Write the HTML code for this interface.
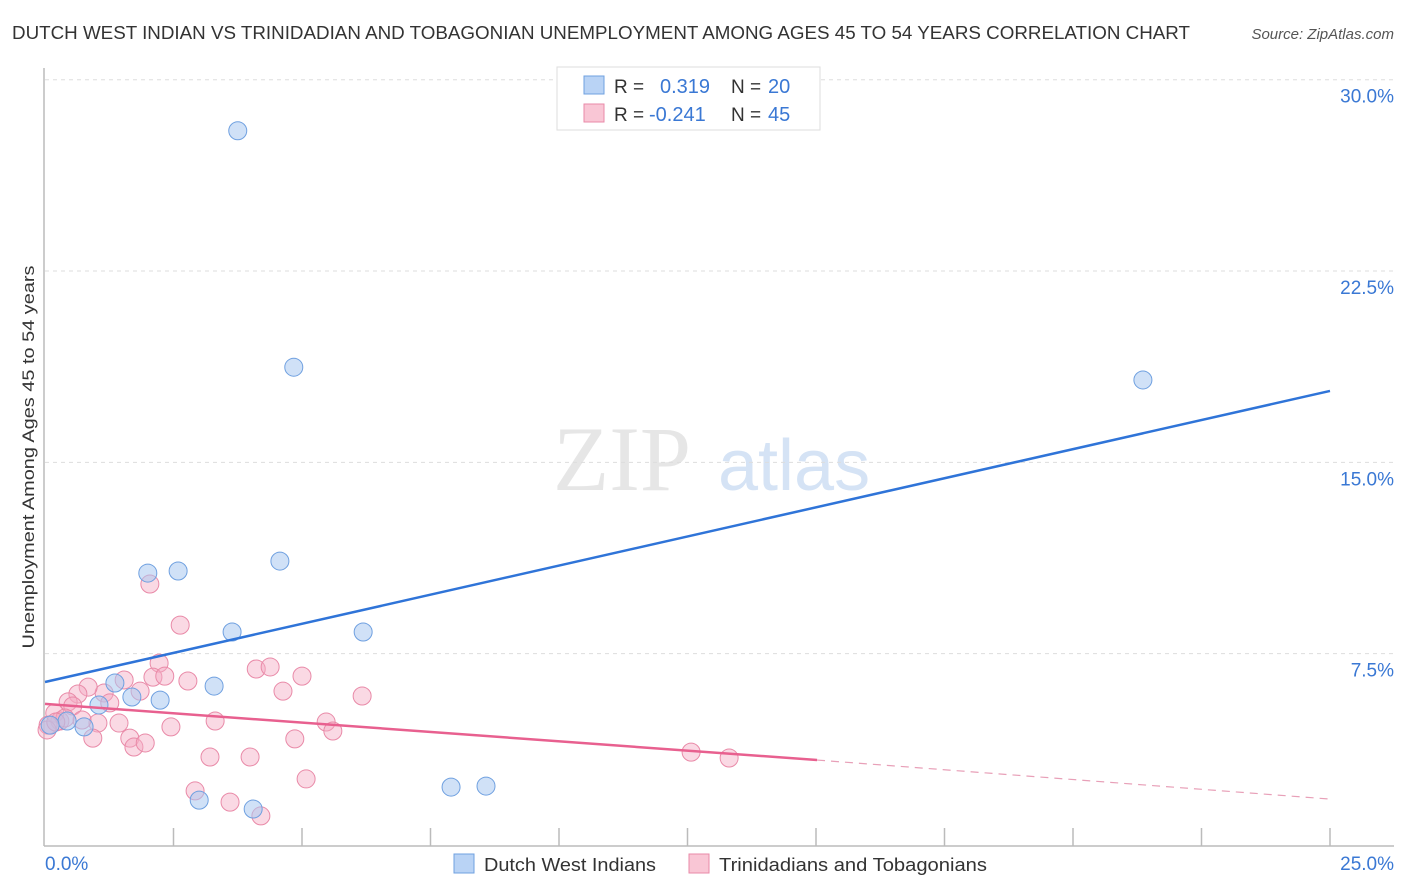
<!DOCTYPE html>
<html><head><meta charset="utf-8"><style>
body{margin:0;background:#fff;font-family:"Liberation Sans",sans-serif;}
</style></head><body>
<svg id="chart" width="1406" height="892" xmlns="http://www.w3.org/2000/svg" style="display:block">
<text x="12" y="39" font-size="18" fill="#333" textLength="1178" lengthAdjust="spacingAndGlyphs">DUTCH WEST INDIAN VS TRINIDADIAN AND TOBAGONIAN UNEMPLOYMENT AMONG AGES 45 TO 54 YEARS CORRELATION CHART</text>
<text x="1394" y="39" font-size="15" fill="#555" text-anchor="end" font-style="italic">Source: ZipAtlas.com</text>
<text x="553" y="490" font-size="92" fill="#e6e6e6" font-family="Liberation Serif, serif">ZIP</text>
<text x="718" y="490" font-size="72" fill="#d5e3f5">atlas</text>
<g id="grid"></g>
<line x1="44" y1="68" x2="44" y2="846" stroke="#bbb" stroke-width="1.5"/>
<line x1="44" y1="846" x2="1394" y2="846" stroke="#bbb" stroke-width="1.5"/>
<g id="xticks"></g>
<g id="marks"></g>
<text transform="translate(34,457) rotate(-90)" font-size="17" fill="#333" text-anchor="middle" textLength="383" lengthAdjust="spacingAndGlyphs">Unemployment Among Ages 45 to 54 years</text>
<text x="45" y="870" font-size="19" fill="#3a78d4">0.0%</text>
<text x="1394" y="870" font-size="19" fill="#3a78d4" text-anchor="end">25.0%</text>
<g>
<rect x="557" y="67" width="263" height="63" fill="#fff" stroke="#ddd"/>
<rect x="584" y="76" width="20" height="18" fill="#b9d3f5" stroke="#6fa0e0"/>
<text x="614" y="93" font-size="19" fill="#333">R = </text><text x="660" y="93" font-size="20" fill="#3a78d4">0.319</text>
<text x="731" y="93" font-size="19" fill="#333">N = </text><text x="768" y="93" font-size="20" fill="#3a78d4">20</text>
<rect x="584" y="104" width="20" height="18" fill="#f9c6d5" stroke="#e98aa8"/>
<text x="614" y="121" font-size="19" fill="#333">R = </text><text x="649" y="121" font-size="20" fill="#3a78d4">-0.241</text>
<text x="731" y="121" font-size="19" fill="#333">N = </text><text x="768" y="121" font-size="20" fill="#3a78d4">45</text>
</g>
<g>
<rect x="454" y="854" width="20" height="19" fill="#b9d3f5" stroke="#6fa0e0"/>
<text x="484" y="871" font-size="18" fill="#333" textLength="172" lengthAdjust="spacingAndGlyphs">Dutch West Indians</text>
<rect x="689" y="854" width="20" height="19" fill="#f9c6d5" stroke="#e98aa8"/>
<text x="719" y="871" font-size="18" fill="#333" textLength="268" lengthAdjust="spacingAndGlyphs">Trinidadians and Tobagonians</text>
</g>
</svg>
<script>
const yTicks=[7.5,15,22.5,30];
const yTickLabels=["7.5%","15.0%","22.5%","30.0%"];
const xTicks=[2.5,5,7.5,10,12.5,15,17.5,20,22.5,25];
const blueX=[3.75,4.84,21.36,2.00,2.59,4.57,3.64,6.19,1.36,3.29,1.69,2.24,1.05,0.43,0.76,0.10,7.90,8.58,3.00,4.05];
const blueY=[28.0,18.73,18.23,10.66,10.74,11.13,8.35,8.35,6.35,6.23,5.80,5.68,5.49,4.86,4.63,4.70,2.27,2.31,1.76,1.41];
const pinkX=[2.04,2.63,2.22,2.10,2.33,2.78,4.11,4.38,5.00,4.63,6.17,1.54,1.85,1.15,0.84,1.26,0.64,0.45,0.54,0.19,0.29,0.06,0.04,1.44,1.03,0.93,1.65,1.73,1.95,2.45,3.31,5.47,5.60,4.86,3.21,3.99,5.08,2.92,3.60,4.20,12.57,13.31,0.72,0.39,0.21];
const pinkY=[10.23,8.62,7.13,6.58,6.62,6.43,6.90,6.98,6.62,6.03,5.84,6.47,6.03,5.96,6.19,5.57,5.92,5.61,5.45,5.17,4.86,4.70,4.51,4.78,4.78,4.19,4.19,3.84,4.00,4.63,4.86,4.82,4.47,4.16,3.45,3.45,2.59,2.12,1.68,1.14,3.64,3.41,4.90,4.98,4.82];
const blueLineX=[0,25];const blueLineY=[6.39,17.8];
const pinkLineX=[0,15.02,25];const pinkLineY=[5.53,3.33,1.80];
const X=v=>45+v*51.4, Y=v=>845-v*25.51;
const NS="http://www.w3.org/2000/svg";
function mk(t,a,p){const e=document.createElementNS(NS,t);for(const k in a)e.setAttribute(k,a[k]);p.appendChild(e);return e;}
const grid=document.getElementById('grid');
yTicks.forEach((v,i)=>{
 const l=mk('line',{x1:45,x2:1394,y1:Y(v),y2:Y(v),stroke:'#ddd','stroke-dasharray':'4,4'},grid);
 
 
 const t=mk('text',{x:1394,y:Y(v)+23,'font-size':19,fill:'#3a78d4','text-anchor':'end'},grid);
 t.textContent=yTickLabels[i];
 
 
});
const xt=document.getElementById('xticks');
xTicks.forEach(v=>{
 const l=mk('line',{x1:X(v),x2:X(v),y1:828,y2:846,stroke:'#bbb','stroke-width':1.5},xt);
 
 
});
const m=document.getElementById('marks');
pinkX.forEach((x,i)=>{
 const c=mk('circle',{cx:X(x),cy:Y(pinkY[i]),r:9,fill:'rgba(245,170,195,0.45)',stroke:'#e98aa8','stroke-width':1},m);
 
 
});
blueX.forEach((x,i)=>{
 const c=mk('circle',{cx:X(x),cy:Y(blueY[i]),r:9,fill:'rgba(169,200,240,0.55)',stroke:'#6fa0e0','stroke-width':1},m);
 
 
});
const bl=mk('line',{x1:X(blueLineX[0]),y1:Y(blueLineY[0]),x2:X(blueLineX[1]),y2:Y(blueLineY[1]),stroke:'#2f74d8','stroke-width':2.5},m);


const pl=mk('line',{x1:X(pinkLineX[0]),y1:Y(pinkLineY[0]),x2:X(pinkLineX[1]),y2:Y(pinkLineY[1]),stroke:'#e8608f','stroke-width':2.5},m);


const pd=mk('line',{x1:X(pinkLineX[1]),y1:Y(pinkLineY[1]),x2:X(pinkLineX[2]),y2:Y(pinkLineY[2]),stroke:'#e8a0b8','stroke-width':1.2,'stroke-dasharray':'8,6'},m);


</script>
</body></html>
